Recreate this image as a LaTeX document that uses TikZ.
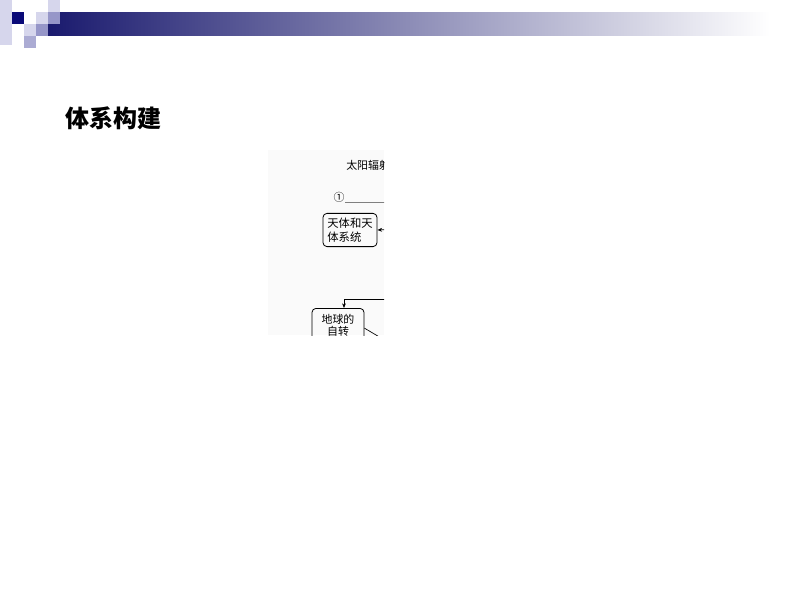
\documentclass[tikz,border=0pt]{standalone}
\usepackage{fontspec}
\newfontfamily\cjk{Noto Sans CJK SC}
\usetikzlibrary{arrows.meta}
\definecolor{navy}{RGB}{26,26,110}
\definecolor{barmid}{RGB}{172,172,198}
\definecolor{deepnavy}{RGB}{10,10,120}
\definecolor{lav}{RGB}{214,214,236}
\definecolor{midlav}{RGB}{150,150,200}
\begin{document}
\begin{tikzpicture}[x=0.75pt,y=-0.75pt,
                sq/.style={inner sep=0pt,minimum size=9pt,draw=none},
                title/.style={anchor=west,inner sep=0pt,font=\cjk\bfseries\fontsize{18}{20}\selectfont},
                lbl/.style={inner sep=0pt,font=\cjk\fontsize{8.2}{10}\selectfont},
                box/.style={rectangle,rounded corners=3pt,draw=black,line width=0.6pt,
                inner xsep=0pt},
                arr/.style={-{Stealth[length=3.5pt,width=2.8pt]},line width=0.5pt}]
                \useasboundingbox (0,0) rectangle (794,596);
                % top bar and squares
                \shade[left color=navy,middle color=barmid,right color=white] (48,12) rectangle (770,35);
                \fill[lav] (0,0) rectangle (12,45);
                \node (s1) at (18,18) [sq,fill=deepnavy] {};
                \node (s2) at (42,18) [sq,fill=lav] {};
                \node (s3) at (54,6) [sq,fill=lav] {};
                \node (s4) at (54,18) [sq,fill=midlav] {};
                \node (s5) at (30,30) [sq,fill=lav] {};
                \node (s6) at (42,30) [sq,fill=midlav] {};
                \node (s7) at (30,42) [sq,fill=midlav!80] {};
                \node (title) at (65,118) [title] {体系构建};
                % cut-out of the chart
                \begin{scope}
                \clip (268,150) rectangle (384,335);
                \fill[gray!4] (268,150) rectangle (384,335);
                \node (sun) at (346,165) [lbl,anchor=west] {太阳辐射};
                \node (q1) at (339,197) [lbl] {①};
                \node (tianti) at (350,230) [box,minimum width=40.5pt,minimum height=22.5pt,align=left,
                    font=\cjk\fontsize{8.5}{10.5}\selectfont] {天体和天\\体系统};
                \node (zizhuan) at (338,308) [box,anchor=north,minimum width=39pt,inner ysep=4.5pt,align=center,
                    font=\cjk\fontsize{8.2}{9}\selectfont] {地球的\\自转};
                \coordinate (u1) at (345,202);
                \coordinate (u2) at (400,202);
                \coordinate (in1) at (400,229);
                \coordinate (fb) at (400,299);
                \coordinate (dg) at (393,345);
                \draw[gray,line width=0.6pt] (u1) -- (u2);
                \draw[arr] (in1) -- (tianti.east);
                \draw[arr] (fb) -| ([xshift=4.5pt]zizhuan.north);
                \draw[line width=0.5pt] ([yshift=-2pt]zizhuan.east) -- (dg);
                \end{scope}
            \end{tikzpicture}
\end{document}
